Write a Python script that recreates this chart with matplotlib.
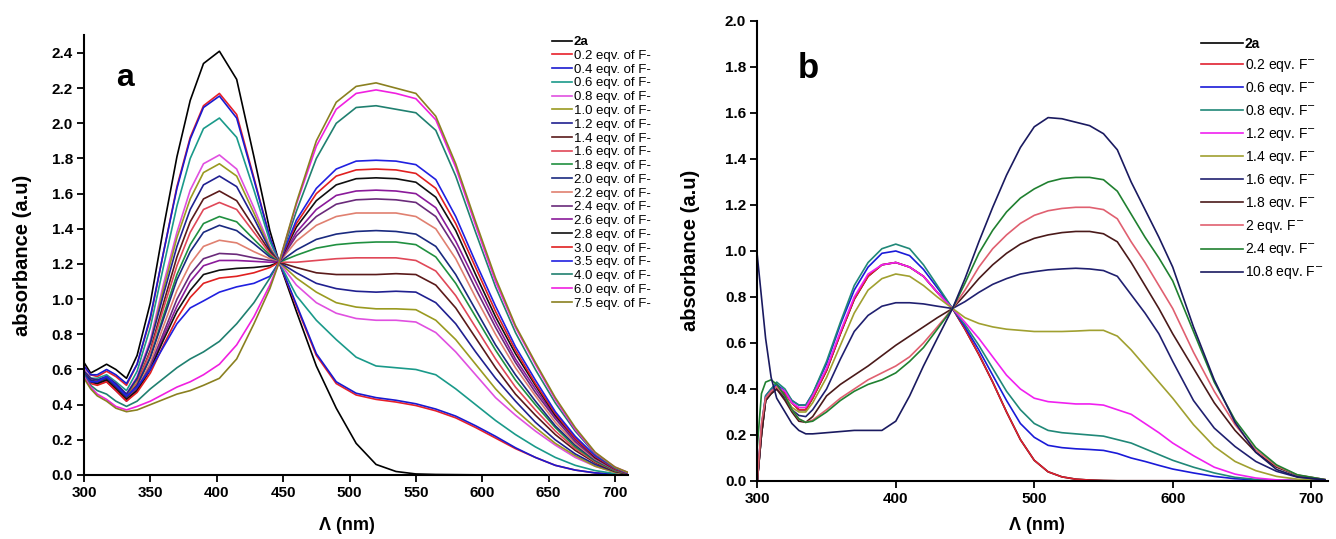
import matplotlib
matplotlib.use('Agg')
import matplotlib.pyplot as plt

plt.rcParams['font.family'] = ['Liberation Sans', 'DejaVu Sans']

# ---------------- Panel a data ----------------
wl_a = [300, 305, 310, 317, 324, 332, 340, 350, 360, 370, 380, 390, 402, 415, 428, 440, 447,
        460, 475, 490, 505, 520, 535, 550, 565, 580, 595, 610, 625, 640, 655, 670, 685, 700, 710]

a_2a = [0.64, 0.58, 0.60, 0.63, 0.60, 0.55, 0.68, 0.98, 1.41, 1.81, 2.13, 2.34, 2.41, 2.25, 1.81, 1.39, 1.21,
        0.93, 0.62, 0.38, 0.18, 0.06, 0.02, 0.006, 0.003, 0.002, 0.001, 0.001, 0.001, 0.001, 0.001, 0.001, 0.001, 0.001, 0.001]
a_02 = [0.62, 0.57, 0.56, 0.59, 0.56, 0.51, 0.63, 0.89, 1.27, 1.64, 1.92, 2.10, 2.17, 2.05, 1.69, 1.35, 1.21,
        0.96, 0.68, 0.52, 0.455, 0.43, 0.415, 0.395, 0.365, 0.325, 0.27, 0.21, 0.15, 0.10, 0.055, 0.028, 0.012, 0.004, 0.002]
a_04 = [0.62, 0.57, 0.57, 0.60, 0.57, 0.52, 0.63, 0.90, 1.27, 1.63, 1.91, 2.09, 2.155, 2.03, 1.68, 1.35, 1.21,
        0.97, 0.69, 0.53, 0.465, 0.44, 0.425, 0.405, 0.375, 0.335, 0.28, 0.22, 0.155, 0.10, 0.055, 0.028, 0.012, 0.004, 0.002]
a_06 = [0.60, 0.55, 0.55, 0.57, 0.53, 0.48, 0.59, 0.84, 1.19, 1.53, 1.80, 1.97, 2.03, 1.92, 1.62, 1.33, 1.21,
        1.02, 0.88, 0.77, 0.67, 0.62, 0.61, 0.60, 0.57, 0.49, 0.40, 0.31, 0.23, 0.16, 0.10, 0.055, 0.025, 0.008, 0.003]
a_08 = [0.60, 0.55, 0.54, 0.56, 0.52, 0.46, 0.56, 0.77, 1.09, 1.38, 1.62, 1.77, 1.82, 1.74, 1.52, 1.30, 1.21,
        1.08, 0.98, 0.92, 0.89, 0.88, 0.88, 0.87, 0.81, 0.70, 0.57, 0.44, 0.34, 0.25, 0.17, 0.10, 0.05, 0.015, 0.005]
a_10 = [0.59, 0.55, 0.54, 0.55, 0.51, 0.45, 0.54, 0.75, 1.06, 1.35, 1.57, 1.72, 1.77, 1.70, 1.49, 1.29, 1.21,
        1.12, 1.04, 0.98, 0.955, 0.945, 0.945, 0.94, 0.88, 0.77, 0.63, 0.49, 0.37, 0.27, 0.18, 0.11, 0.05, 0.015, 0.005]
a_12 = [0.59, 0.55, 0.54, 0.56, 0.52, 0.46, 0.55, 0.75, 1.03, 1.30, 1.51, 1.65, 1.70, 1.64, 1.46, 1.28, 1.21,
        1.15, 1.09, 1.06, 1.045, 1.04, 1.045, 1.04, 0.98, 0.86, 0.70, 0.55, 0.42, 0.30, 0.20, 0.12, 0.06, 0.02, 0.005]
a_14 = [0.58, 0.54, 0.53, 0.55, 0.50, 0.44, 0.52, 0.71, 0.98, 1.24, 1.44, 1.57, 1.615, 1.56, 1.41, 1.27, 1.21,
        1.18, 1.15, 1.14, 1.14, 1.14, 1.145, 1.14, 1.08, 0.95, 0.78, 0.61, 0.46, 0.34, 0.23, 0.14, 0.07, 0.02, 0.007]
a_16 = [0.58, 0.54, 0.53, 0.54, 0.50, 0.44, 0.52, 0.70, 0.95, 1.19, 1.38, 1.51, 1.55, 1.51, 1.38, 1.26, 1.21,
        1.21, 1.22, 1.23, 1.235, 1.235, 1.235, 1.22, 1.16, 1.02, 0.84, 0.66, 0.50, 0.37, 0.25, 0.15, 0.075, 0.025, 0.008]
a_18 = [0.58, 0.53, 0.52, 0.54, 0.49, 0.43, 0.50, 0.67, 0.91, 1.14, 1.31, 1.43, 1.47, 1.44, 1.34, 1.25, 1.21,
        1.25, 1.29, 1.31, 1.32, 1.325, 1.325, 1.31, 1.24, 1.09, 0.90, 0.71, 0.54, 0.40, 0.27, 0.16, 0.08, 0.025, 0.008]
a_20 = [0.58, 0.54, 0.53, 0.55, 0.50, 0.44, 0.51, 0.67, 0.89, 1.11, 1.27, 1.38, 1.42, 1.39, 1.315, 1.24, 1.21,
        1.28, 1.34, 1.37, 1.385, 1.39, 1.385, 1.37, 1.30, 1.14, 0.94, 0.74, 0.57, 0.42, 0.28, 0.17, 0.085, 0.03, 0.009]
a_22 = [0.57, 0.53, 0.52, 0.53, 0.49, 0.43, 0.49, 0.64, 0.85, 1.05, 1.20, 1.30, 1.335, 1.32, 1.27, 1.23, 1.21,
        1.33, 1.42, 1.47, 1.49, 1.49, 1.49, 1.47, 1.40, 1.23, 1.01, 0.80, 0.61, 0.45, 0.30, 0.18, 0.09, 0.03, 0.01]
a_24 = [0.57, 0.53, 0.52, 0.54, 0.49, 0.43, 0.49, 0.62, 0.81, 1.00, 1.14, 1.23, 1.26, 1.255, 1.235, 1.22, 1.21,
        1.36, 1.47, 1.54, 1.565, 1.57, 1.565, 1.55, 1.47, 1.29, 1.06, 0.84, 0.64, 0.47, 0.32, 0.19, 0.095, 0.03, 0.01]
a_26 = [0.57, 0.53, 0.52, 0.53, 0.48, 0.42, 0.48, 0.60, 0.79, 0.96, 1.10, 1.19, 1.22, 1.22, 1.215, 1.21, 1.21,
        1.38, 1.51, 1.59, 1.615, 1.62, 1.615, 1.60, 1.52, 1.33, 1.10, 0.87, 0.66, 0.49, 0.33, 0.20, 0.10, 0.035, 0.01]
a_28 = [0.57, 0.53, 0.52, 0.54, 0.49, 0.43, 0.48, 0.60, 0.77, 0.93, 1.05, 1.14, 1.165, 1.175, 1.18, 1.19, 1.21,
        1.41, 1.56, 1.65, 1.685, 1.69, 1.685, 1.665, 1.58, 1.39, 1.14, 0.90, 0.69, 0.51, 0.34, 0.21, 0.10, 0.035, 0.01]
a_30 = [0.56, 0.52, 0.51, 0.53, 0.48, 0.42, 0.47, 0.58, 0.74, 0.89, 1.01, 1.09, 1.12, 1.13, 1.15, 1.18, 1.21,
        1.43, 1.60, 1.70, 1.735, 1.74, 1.735, 1.715, 1.63, 1.43, 1.18, 0.93, 0.71, 0.52, 0.35, 0.21, 0.105, 0.035, 0.01]
a_35 = [0.57, 0.53, 0.53, 0.56, 0.51, 0.45, 0.50, 0.60, 0.73, 0.86, 0.95, 0.99, 1.04, 1.07, 1.09, 1.13, 1.21,
        1.45, 1.63, 1.74, 1.785, 1.79, 1.785, 1.765, 1.68, 1.47, 1.21, 0.96, 0.73, 0.54, 0.36, 0.22, 0.11, 0.04, 0.01]
a_40 = [0.57, 0.51, 0.48, 0.46, 0.42, 0.39, 0.42, 0.49, 0.55, 0.61, 0.66, 0.70, 0.76, 0.86, 0.98, 1.12, 1.21,
        1.50, 1.80, 2.00, 2.09, 2.10, 2.08, 2.06, 1.96, 1.70, 1.38, 1.07, 0.81, 0.60, 0.41, 0.25, 0.12, 0.04, 0.012]
a_60 = [0.56, 0.50, 0.46, 0.43, 0.39, 0.37, 0.39, 0.42, 0.46, 0.50, 0.53, 0.57, 0.63, 0.74, 0.90, 1.08, 1.21,
        1.54, 1.87, 2.08, 2.17, 2.19, 2.17, 2.14, 2.02, 1.75, 1.42, 1.10, 0.84, 0.63, 0.43, 0.26, 0.125, 0.045, 0.013]
a_75 = [0.55, 0.49, 0.45, 0.42, 0.38, 0.36, 0.37, 0.40, 0.43, 0.46, 0.48, 0.51, 0.55, 0.66, 0.86, 1.06, 1.21,
        1.55, 1.90, 2.12, 2.21, 2.23, 2.20, 2.17, 2.04, 1.77, 1.44, 1.12, 0.85, 0.64, 0.44, 0.27, 0.13, 0.045, 0.014]

labels_a = ['2a', '0.2 eqv. of F-', '0.4 eqv. of F-', '0.6 eqv. of F-', '0.8 eqv. of F-',
            '1.0 eqv. of F-', '1.2 eqv. of F-', '1.4 eqv. of F-', '1.6 eqv. of F-', '1.8 eqv. of F-',
            '2.0 eqv. of F-', '2.2 eqv. of F-', '2.4 eqv. of F-', '2.6 eqv. of F-', '2.8 eqv. of F-',
            '3.0 eqv. of F-', '3.5 eqv. of F-', '4.0 eqv. of F-', '6.0 eqv. of F-', '7.5 eqv. of F-']
colors_a = ['#000000', '#e8202a', '#1a1ad0', '#1a9a8a', '#e050e0', '#9a9a20', '#202090', '#5a1a1a',
            '#e04858', '#209040', '#1a2a80', '#e08070', '#6a2a7a', '#8a1a9a', '#101010', '#e02020',
            '#2020e0', '#208070', '#f020e0', '#8a8020']
series_a = [a_2a, a_02, a_04, a_06, a_08, a_10, a_12, a_14, a_16, a_18, a_20, a_22, a_24, a_26,
            a_28, a_30, a_35, a_40, a_60, a_75]

xticks_a = [300, 350, 400, 450, 500, 550, 600, 650, 700]
yticks_a = [0.0, 0.2, 0.4, 0.6, 0.8, 1.0, 1.2, 1.4, 1.6, 1.8, 2.0, 2.2, 2.4]

# ---------------- Panel b data ----------------
wl_b = [300, 303, 306, 310, 314, 320, 325, 330, 335, 340, 350, 360, 370, 380, 390, 400, 410, 420, 430, 441,
        450, 460, 470, 480, 490, 500, 510, 520, 530, 540, 550, 560, 570, 580, 590, 600, 615, 630, 645, 660,
        675, 690, 710]

b_2a = [0.0, 0.20, 0.35, 0.39, 0.41, 0.38, 0.34, 0.31, 0.31, 0.36, 0.48, 0.64, 0.79, 0.89, 0.94, 0.95, 0.93, 0.89, 0.82, 0.75,
        0.66, 0.55, 0.43, 0.30, 0.18, 0.09, 0.04, 0.018, 0.008, 0.004, 0.002, 0.001, 0.001, 0.001, 0.001, 0.001, 0.001, 0.001, 0.001, 0.001,
        0.001, 0.001, 0.001]
b_02 = [0.0, 0.22, 0.36, 0.39, 0.41, 0.38, 0.34, 0.31, 0.31, 0.36, 0.48, 0.64, 0.79, 0.89, 0.94, 0.95, 0.93, 0.89, 0.82, 0.75,
        0.66, 0.55, 0.43, 0.30, 0.18, 0.09, 0.04, 0.018, 0.008, 0.004, 0.002, 0.001, 0.001, 0.001, 0.001, 0.001, 0.001, 0.001, 0.001, 0.001,
        0.001, 0.001, 0.001]
b_06 = [0.0, 0.24, 0.37, 0.40, 0.42, 0.39, 0.35, 0.33, 0.33, 0.38, 0.51, 0.68, 0.83, 0.93, 0.99, 1.00, 0.98, 0.92, 0.84, 0.75,
        0.67, 0.57, 0.46, 0.35, 0.25, 0.19, 0.155, 0.145, 0.14, 0.137, 0.133, 0.12, 0.10, 0.085, 0.068, 0.052, 0.035, 0.02, 0.01, 0.005,
        0.003, 0.002, 0.001]
b_08 = [0.0, 0.23, 0.37, 0.40, 0.43, 0.40, 0.35, 0.33, 0.33, 0.38, 0.52, 0.69, 0.85, 0.95, 1.01, 1.03, 1.01, 0.94, 0.85, 0.75,
        0.68, 0.59, 0.49, 0.39, 0.31, 0.25, 0.22, 0.21, 0.205, 0.20, 0.195, 0.18, 0.165, 0.14, 0.115, 0.09, 0.06, 0.035, 0.016, 0.007,
        0.003, 0.002, 0.001]
b_12 = [0.0, 0.21, 0.36, 0.39, 0.41, 0.39, 0.34, 0.32, 0.32, 0.37, 0.49, 0.65, 0.80, 0.90, 0.94, 0.95, 0.93, 0.89, 0.82, 0.75,
        0.69, 0.62, 0.54, 0.46, 0.40, 0.36, 0.345, 0.34, 0.335, 0.335, 0.33, 0.31, 0.29, 0.25, 0.21, 0.165, 0.11, 0.06, 0.03, 0.013,
        0.005, 0.002, 0.001]
b_14 = [0.0, 0.20, 0.35, 0.38, 0.40, 0.37, 0.32, 0.30, 0.30, 0.34, 0.45, 0.59, 0.73, 0.83, 0.88, 0.90, 0.89, 0.85, 0.80, 0.75,
        0.71, 0.685, 0.67, 0.66, 0.655, 0.65, 0.65, 0.65, 0.652, 0.655, 0.655, 0.63, 0.57, 0.50, 0.43, 0.36, 0.245, 0.15, 0.085, 0.045,
        0.02, 0.008, 0.003]
b_16 = [0.0, 0.20, 0.35, 0.38, 0.40, 0.36, 0.31, 0.285, 0.28, 0.31, 0.40, 0.53, 0.65, 0.72, 0.76, 0.775, 0.775, 0.77, 0.76, 0.75,
        0.78, 0.82, 0.855, 0.88, 0.90, 0.91, 0.918, 0.922, 0.925, 0.922, 0.915, 0.89, 0.81, 0.73, 0.64, 0.52, 0.35, 0.23, 0.15, 0.085,
        0.042, 0.017, 0.005]
b_18 = [0.0, 0.20, 0.35, 0.38, 0.40, 0.35, 0.30, 0.26, 0.255, 0.28, 0.37, 0.42, 0.46, 0.50, 0.545, 0.59, 0.63, 0.67, 0.71, 0.75,
        0.81, 0.88, 0.94, 0.99, 1.03, 1.055, 1.07, 1.08, 1.085, 1.085, 1.075, 1.04, 0.95, 0.85, 0.75, 0.64, 0.49, 0.34, 0.22, 0.125,
        0.06, 0.025, 0.006]
b_20 = [0.0, 0.25, 0.36, 0.39, 0.41, 0.37, 0.31, 0.27, 0.255, 0.265, 0.31, 0.36, 0.40, 0.44, 0.47, 0.50, 0.54, 0.60, 0.67, 0.75,
        0.83, 0.93, 1.01, 1.07, 1.12, 1.155, 1.175, 1.185, 1.19, 1.19, 1.18, 1.14, 1.04, 0.95, 0.85, 0.75, 0.56, 0.39, 0.245, 0.135,
        0.065, 0.026, 0.006]
b_24 = [0.15, 0.38, 0.43, 0.44, 0.42, 0.37, 0.31, 0.27, 0.255, 0.26, 0.30, 0.35, 0.39, 0.42, 0.44, 0.47, 0.52, 0.58, 0.66, 0.75,
        0.86, 0.99, 1.09, 1.17, 1.23, 1.27, 1.30, 1.315, 1.32, 1.32, 1.31, 1.26, 1.16, 1.06, 0.97, 0.87, 0.65, 0.43, 0.265, 0.145,
        0.07, 0.027, 0.006]
b_108 = [0.98, 0.80, 0.62, 0.45, 0.36, 0.30, 0.25, 0.22, 0.205, 0.205, 0.21, 0.215, 0.22, 0.22, 0.22, 0.26, 0.37, 0.50, 0.62, 0.75,
         0.88, 1.04, 1.19, 1.33, 1.45, 1.54, 1.58, 1.575, 1.56, 1.545, 1.51, 1.44, 1.30, 1.18, 1.06, 0.93, 0.67, 0.44, 0.255, 0.125,
         0.05, 0.018, 0.005]

labels_b = ['2a', '0.2 eqv. F$^{-}$', '0.6 eqv. F$^{-}$', '0.8 eqv. F$^{-}$', '1.2 eqv. F$^{-}$',
            '1.4 eqv. F$^{-}$', '1.6 eqv. F$^{-}$', '1.8 eqv. F$^{-}$', '2 eqv. F$^{-}$',
            '2.4 eqv. F$^{-}$', '10.8 eqv. F$^{-}$']
colors_b = ['#000000', '#e02030', '#1a1ad8', '#208878', '#f020f0', '#a0a030', '#202070', '#4a1a1a',
            '#e06070', '#208030', '#1a1a60']
series_b = [b_2a, b_02, b_06, b_08, b_12, b_14, b_16, b_18, b_20, b_24, b_108]

xticks_b = [300, 400, 500, 600, 700]
yticks_b = [0.0, 0.2, 0.4, 0.6, 0.8, 1.0, 1.2, 1.4, 1.6, 1.8, 2.0]

# ---------------- Figure ----------------
W, H = 1336, 539
fig = plt.figure(figsize=(W / 100, H / 100), dpi=100)
axA = fig.add_axes([84 / W, 64 / H, 544.3 / W, 439.6 / H])
axB = fig.add_axes([757.3 / W, 58 / H, 570.5 / W, 460 / H])


def style(ax, xt, yt, xlim, ylim):
    ax.set_xlim(*xlim)
    ax.set_ylim(*ylim)
    ax.set_xticks(xt)
    ax.set_yticks(yt)
    ax.set_xticklabels([str(v) for v in xt])
    ax.set_yticklabels(['%.1f' % v for v in yt])
    for s in ['top', 'right']:
        ax.spines[s].set_visible(False)
    for s in ['left', 'bottom']:
        ax.spines[s].set_linewidth(1.5)
    ax.tick_params(direction='out', length=5, width=1.3, labelsize=11, pad=3)
    for lb in ax.get_xticklabels() + ax.get_yticklabels():
        lb.set_fontweight('bold')
    ax.set_ylabel('absorbance (a.u)', fontsize=14.5, fontweight='bold')
    ax.set_xlabel('\u039b (nm)', fontsize=13, fontweight='bold')


for ys, c, lab in zip(series_a, colors_a, labels_a):
    axA.plot(wl_a, ys, color=c, lw=1.2, label=lab)
for ys, c, lab in zip(series_b, colors_b, labels_b):
    axB.plot(wl_b, ys, color=c, lw=1.2, label=lab)

style(axA, xticks_a, yticks_a, (300, 710), (0, 2.5))
style(axB, xticks_b, yticks_b, (300, 712), (0, 2.0))

axA.yaxis.set_label_coords(-0.0955, 0.50)
axA.xaxis.set_label_coords(0.483, -0.095)
axB.yaxis.set_label_coords(-0.100, 0.502)
axB.xaxis.set_label_coords(0.49, -0.078)

fig.text(125 / W, 1 - 78 / H, 'a', fontsize=23, fontweight='bold', ha='center', va='center')
fig.text(808 / W, 1 - 68 / H, 'b', fontsize=25, fontweight='bold', ha='center', va='center')

hA, lA = axA.get_legend_handles_labels()
legA = fig.legend(hA, lA, loc='upper left', bbox_to_anchor=(552 / W, 1 - 36 / H), frameon=False,
                  fontsize=9.5, handlelength=1.5, handletextpad=0.15, labelspacing=0.115,
                  borderpad=0, borderaxespad=0)
legA.get_texts()[0].set_fontweight('bold')

hB, lB = axB.get_legend_handles_labels()
legB = fig.legend(hB, lB, loc='upper left', bbox_to_anchor=(1201 / W, 1 - 37 / H), frameon=False,
                  fontsize=10, handlelength=3.0, handletextpad=0.15, labelspacing=0.435,
                  borderpad=0, borderaxespad=0)
legB.get_texts()[0].set_fontweight('bold')

fig.savefig('out.png', dpi=100)
